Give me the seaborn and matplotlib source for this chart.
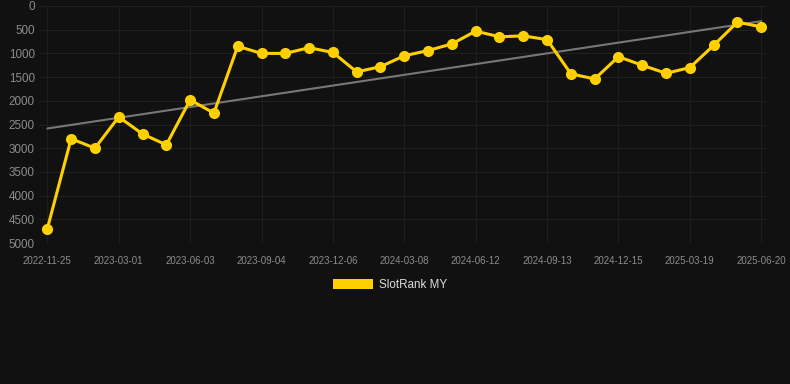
import numpy as np
import pandas as pd
import matplotlib
matplotlib.use("Agg")
import matplotlib.pyplot as plt
import seaborn as sns
from matplotlib.patches import Patch

tick_labels = ["2022-11-25", "2023-03-01", "2023-06-03", "2023-09-04", "2023-12-06",
               "2024-03-08", "2024-06-12", "2024-09-13", "2024-12-15", "2025-03-19",
               "2025-06-20"]
rank = [4700, 2800, 3000, 2340, 2700, 2930, 1980, 2260, 850, 1000,
        1000, 880, 980, 1390, 1280, 1050, 940, 800, 530, 650,
        630, 710, 1430, 1540, 1070, 1250, 1420, 1300, 830, 340, 440]
series_name = "SlotRank MY"

idx = np.arange(len(rank))
df = pd.DataFrame({"i": idx, "rank": rank})

sns.set_theme(style="dark")
plt.rcParams["font.family"] = ["Liberation Sans", "DejaVu Sans"]
bg = "#111111"
fig = plt.figure(figsize=(7.9, 3.84), dpi=100, facecolor=bg)
ax = fig.add_axes([39/790, (384-243)/384, (766-39)/790, (243-6)/384])
ax.set_facecolor(bg)

# trend line (least squares on the data)
coef = np.polyfit(idx, rank, 1)
trend = np.polyval(coef, idx)
sns.lineplot(x=idx, y=trend, ax=ax, color="#777777", linewidth=1.5, zorder=2)

sns.lineplot(data=df, x="i", y="rank", ax=ax, color="#FFD000", linewidth=2.2,
             marker="o", markersize=8, markeredgewidth=0, zorder=3)

ax.set_ylim(5000, 0)
ax.set_xlim(-0.35, len(rank) - 0.8)
ax.set_yticks(np.arange(0, 5001, 500))
ax.set_yticklabels([str(v) for v in range(0, 5001, 500)], color="#8c8c8c", fontsize=8.4)
ax.set_xticks(idx[::3])
ax.set_xticklabels(tick_labels, color="#8c8c8c", fontsize=7)
ax.tick_params(axis="y", length=0, pad=3)
ax.tick_params(axis="x", length=0, pad=9)
ax.grid(True, color="#1f1f1f", linewidth=0.8)
for s in ax.spines.values():
    s.set_visible(False)
ax.set_xlabel("")
ax.set_ylabel("")

handle = Patch(facecolor="#FFD000", edgecolor="none")
fig.legend([handle], [series_name], loc="center", bbox_to_anchor=(390/790, 1 - 285/384),
           frameon=False, fontsize=8.4, labelcolor="#dddddd", handlelength=3.4,
           handleheight=1.0, handletextpad=0.5)

fig.savefig("out.png", dpi=100, facecolor=bg)
